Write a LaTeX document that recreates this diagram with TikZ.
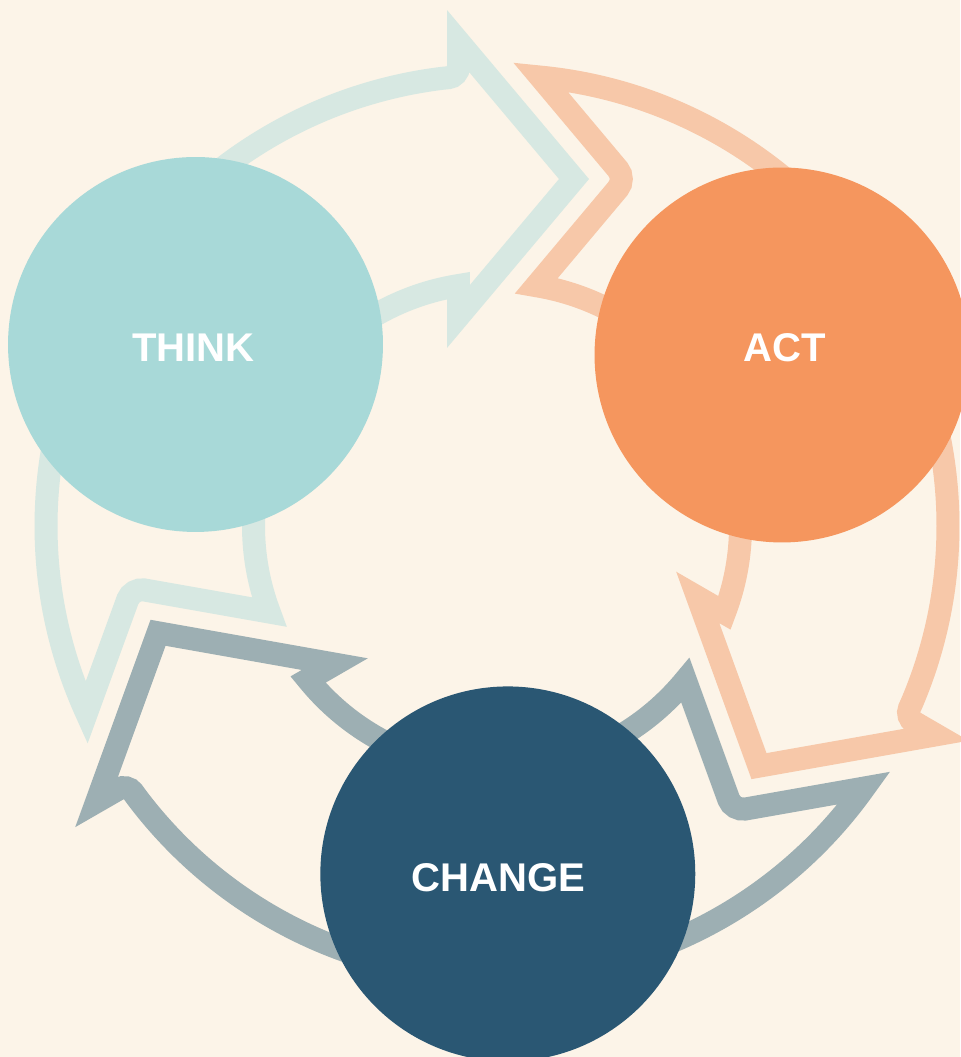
\documentclass[tikz,border=0pt]{standalone}
\usepackage{fontspec}
\setmainfont{Liberation Sans}
\definecolor{bgcream}{HTML}{FCF4E8}
\definecolor{thinkfill}{HTML}{A8D9D8}
\definecolor{thinkline}{HTML}{D7E8E2}
\definecolor{actfill}{HTML}{F5965E}
\definecolor{actline}{HTML}{F7C8A9}
\definecolor{changefill}{HTML}{2A5773}
\definecolor{changeline}{HTML}{9DAFB3}
\tikzset{
  stage/.style={circle, minimum size=7.5cm, inner sep=0pt},
  stagename/.style={text=white, font=\fontsize{22.8}{27}\selectfont\bfseries, anchor=base, inner sep=0pt},
  looparrow/.style={line width=0.46cm, line join=miter}
}
\begin{document}
\begin{tikzpicture}[x=0.02cm, y=0.02cm]
  \fill[bgcream] (0,0) rectangle (960,1057);
  \useasboundingbox (0,0) rectangle (960,1057);

  % hollow arrows round the ring, one turned copy per stage
  \foreach \turn/\col in {0/thinkline, -120/actline, 120/changeline}{
    \begin{scope}[shift={(497,531)}, rotate=\turn]
      \draw[looparrow, \col] (204.47:451) arc[start angle=204.47, end angle=97, radius=451]
        [rounded corners=0.2cm] -- (94.9:451) [sharp corners] -- (94.54:485.9)
        -- (77.49:355.4) -- (100.41:213.1) -- (99.1:243.5)
        arc[start angle=99.1, end angle=200.69, radius=243.5]
        [rounded corners=0.25cm] -- (189.61:370.2) [sharp corners] -- cycle;
    \end{scope}
  }

  \node[stage, fill=thinkfill] (think) at (195.5,712.5) {};
  \node[stage, fill=actfill] (act) at (782,702) {};
  \node[stage, fill=changefill] (change) at (507.8,183.1) {};

  \node[stagename] (thinkname) at (193.2,695.3) {THINK};
  \node[stagename] (actname) at (784.7,695.3) {ACT};
  \node[stagename] (changename) at (498.3,165.3) {CHANGE};
\end{tikzpicture}
\end{document}
